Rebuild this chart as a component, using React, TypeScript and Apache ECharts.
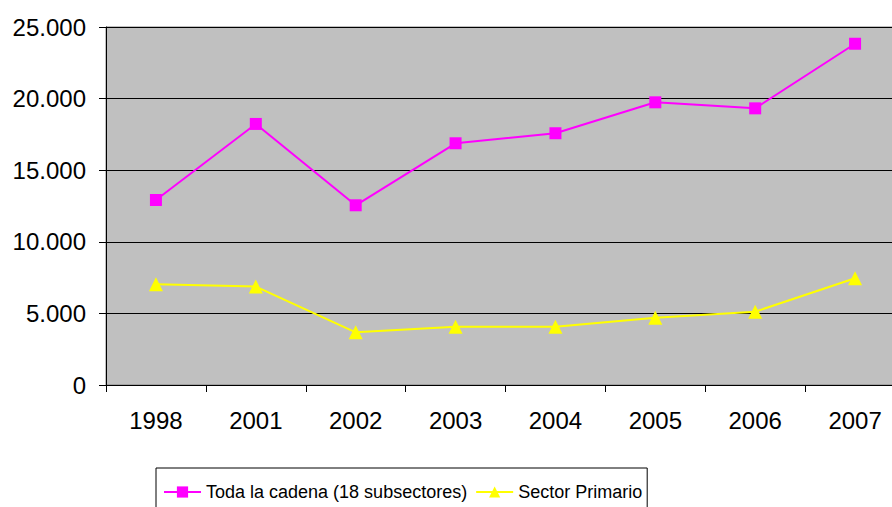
import React, { useEffect, useRef } from "react";
import * as echarts from "echarts";

const categories = ["1998", "2001", "2002", "2003", "2004", "2005", "2006", "2007"];
const todaLaCadena = [12920, 18230, 12550, 16880, 17580, 19740, 19320, 23830];
const sectorPrimario = [7030, 6870, 3680, 4070, 4070, 4700, 5120, 7450];
const seriesNames = ["Toda la cadena (18 subsectores)", "Sector Primario"];

const fmt = (v: number) => {
  const s = Math.round(v).toString();
  return s.replace(/\B(?=(\d{3})+(?!\d))/g, ".");
};

export default function App() {
  const ref = useRef<HTMLDivElement>(null);
  useEffect(() => {
    if (!ref.current) return;
    const chart = echarts.init(ref.current, undefined, { renderer: "svg" });
    const font = "'Liberation Sans', Arial, sans-serif";
    chart.setOption({
      animation: false,
      backgroundColor: "#ffffff",
      textStyle: { fontFamily: font },
      grid: {
        left: 106,
        top: 27,
        right: 0,
        bottom: 122,
        show: true,
        backgroundColor: "#c0c0c0",
        borderColor: "#808080",
        borderWidth: 1,
      },
      xAxis: {
        type: "category",
        data: categories,
        boundaryGap: true,
        axisLine: { show: true, lineStyle: { color: "#000", width: 1 } },
        axisTick: { show: true, length: 7, lineStyle: { color: "#000" } },
        axisLabel: { color: "#000", fontSize: 24, margin: 23, fontFamily: font },
        splitLine: { show: false },
      },
      yAxis: {
        type: "value",
        min: 0,
        max: 25000,
        interval: 5000,
        axisLine: { show: true, lineStyle: { color: "#000", width: 1 } },
        axisTick: { show: true, length: 7, lineStyle: { color: "#000" } },
        axisLabel: { color: "#000", fontSize: 24, margin: 20, fontFamily: font, formatter: fmt },
        splitLine: { show: true, lineStyle: { color: "#000", width: 1 } },
      },
      legend: {
        left: 156,
        top: 468,
        orient: "horizontal",
        backgroundColor: "#ffffff",
        borderColor: "#000",
        borderWidth: 1,
        borderRadius: 0,
        padding: [15, 5, 16, 7],
        itemWidth: 37,
        itemHeight: 14,
        itemGap: 8,
        textStyle: {
          color: "#000",
          fontSize: 18,
          fontFamily: font,
        },
        data: seriesNames,
      },
      series: [
        {
          name: seriesNames[0],
          type: "line",
          data: todaLaCadena,
          symbol: "rect",
          symbolSize: 12,
          lineStyle: { color: "#ff00ff", width: 2 },
          itemStyle: { color: "#ff00ff" },
        },
        {
          name: seriesNames[1],
          type: "line",
          data: sectorPrimario,
          symbol: "triangle",
          symbolSize: 14,
          lineStyle: { color: "#ffff00", width: 2 },
          itemStyle: { color: "#ffff00" },
        },
      ],
    });
    return () => chart.dispose();
  }, []);
  return (
    <div
      style={{
        position: "fixed",
        left: 0,
        top: 0,
        width: 892,
        height: 507,
        overflow: "hidden",
      }}
    >
      <div ref={ref} style={{ width: 905, height: 507 }} />
    </div>
  );
}
